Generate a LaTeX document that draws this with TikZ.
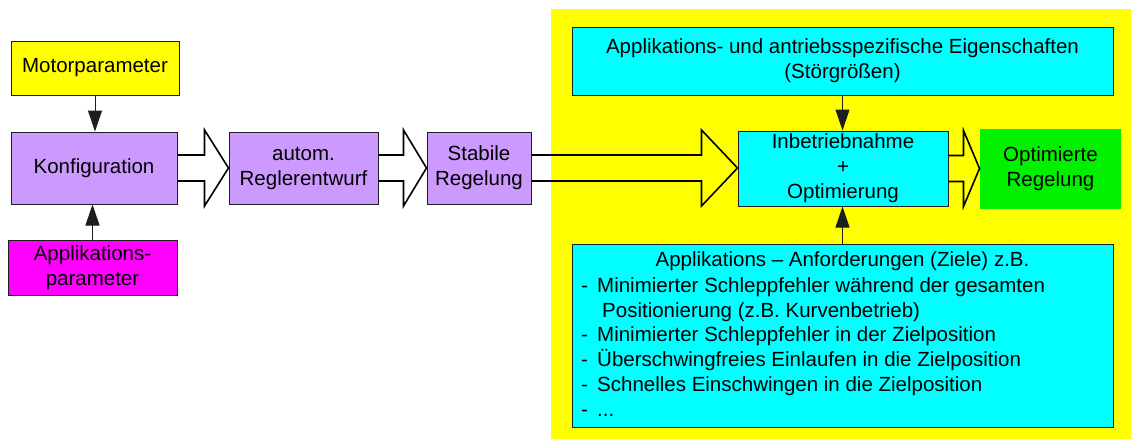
\documentclass[tikz,border=0pt]{standalone}
\usepackage{fontspec}
\setmainfont{Liberation Sans}
\usetikzlibrary{arrows.meta,calc}
\definecolor{lila}{RGB}{204,153,255}
\definecolor{yel}{RGB}{255,255,0}
\definecolor{mag}{RGB}{255,0,255}
\definecolor{cyn}{RGB}{0,255,255}
\definecolor{grn}{RGB}{0,240,0}
\definecolor{edge}{RGB}{30,30,30}
\newcommand\blkarrow[3]{%
  \draw[blockarr] let \p1=(#1.east), \p2=(#2.west) in
    (\x1,\y1+13pt) -- (\x2-#3pt,\y1+13pt) -- (\x2-#3pt,\y1+38pt) -- (\x2,\y1)
    -- (\x2-#3pt,\y1-38pt) -- (\x2-#3pt,\y1-13pt) -- (\x1,\y1-13pt);}
\begin{document}
\begin{tikzpicture}[x=1pt,y=-1pt,
  txt/.style={font=\fontsize{20.5}{25}\selectfont},
  box/.style={txt,draw=edge,line width=1pt,rectangle,inner sep=0pt,align=center},
  thinarr/.style={draw=edge,line width=1pt,-{Triangle[length=21pt,width=14pt]}},
  blockarr/.style={draw=black,line width=1.6pt,line join=miter}]
\useasboundingbox (0,0) rectangle (1131,439);
\fill[white] (0,0) rectangle (1131,439);
\fill[yel] (551,9) rectangle (1131,439);

\node[box,fill=yel,minimum width=168pt,minimum height=54pt] (motor) at (95,68) {Motorparameter};
\node[box,fill=lila,minimum width=166pt,minimum height=72pt] (konf) at (94,168) {Konfiguration};
\node[box,fill=mag,minimum width=169pt,minimum height=55pt] (apps) at (92.5,267.5) {Applikations-\\parameter};
\node[box,fill=lila,minimum width=149pt,minimum height=72pt] (autom) at (303.5,168) {autom.\\Reglerentwurf};
\node[box,fill=lila,minimum width=104pt,minimum height=72pt] (stab) at (479,168) {Stabile\\Regelung};

\node[box,fill=cyn,minimum width=541pt,minimum height=68pt] (eig) at (842.5,61)
  {Applikations- und antriebsspezifische Eigenschaften\\(Störgrößen)};
\node[box,fill=cyn,minimum width=210pt,minimum height=75pt] (inb) at (843,168.5)
  {Inbetriebnahme\\+\\Optimierung};
\node[box,draw=none,fill=grn,minimum width=141pt,minimum height=80pt] (opt) at (1050.5,169)
  {Optimierte\\Regelung};
\node[box,fill=cyn,minimum width=541pt,minimum height=183pt] (req) at (842.5,335.5) {};
\node[txt,anchor=base,inner sep=0pt] (reqhead) at (842.5,266.7)
  {Applikations – Anforderungen (Ziele) z.B.};
\node[anchor=base west,inner sep=0pt,align=left,font=\fontsize{20.5}{24.8}\selectfont] (reqlist) at (581,416.3)
  {\makebox[16pt][l]{-}Minimierter Schleppfehler während der gesamten\\
   \hspace*{21pt}Positionierung (z.B. Kurvenbetrieb)\\
   \makebox[16pt][l]{-}Minimierter Schleppfehler in der Zielposition\\
   \makebox[16pt][l]{-}Überschwingfreies Einlaufen in die Zielposition\\
   \makebox[16pt][l]{-}Schnelles Einschwingen in die Zielposition\\
   \makebox[16pt][l]{-}...};

\draw[thinarr] (motor.south) -- (motor.south |- konf.north);
\draw[thinarr] (apps.north) -- (apps.north |- konf.south);
\draw[thinarr] (eig.south) -- (eig.south |- inb.north);
\draw[thinarr] (req.north) -- (req.north |- inb.south);

\blkarrow{konf}{autom}{24}
\blkarrow{autom}{stab}{23}
\blkarrow{stab}{inb}{36}
\blkarrow{inb}{opt}{16}
\end{tikzpicture}
\end{document}
